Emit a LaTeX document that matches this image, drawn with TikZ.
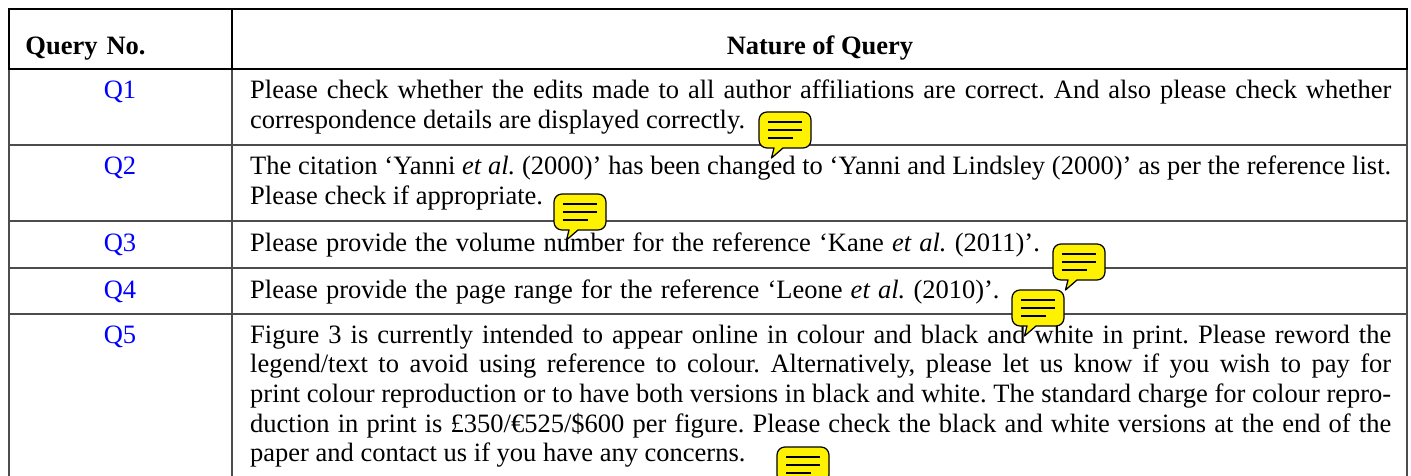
\documentclass[tikz,border=0pt]{standalone}
\usepackage{fontspec}
\setmainfont{Liberation Serif}
\newcommand{\widewords}{\spaceskip=8.2pt\relax}
\tikzset{
  x=1pt,y=-1pt,
  rule/.style={draw=black!70,line width=1.5pt},
  heavy/.style={draw=black,line width=2pt},
  cell/.style={anchor=base west,inner sep=0pt,text width=1141pt,align=justify,font=\fontsize{26.5}{29.7}\selectfont\frenchspacing},
  qno/.style={anchor=base,inner sep=0pt,text=blue,font=\fontsize{26.5}{29}\selectfont},
  head/.style={anchor=base,inner sep=0pt,font=\fontsize{26.5}{29}\selectfont\bfseries},
  bubble/.style={draw=black,fill=yellow,line width=1.25pt,line join=round},
  bline/.style={draw=black,line width=1.25pt}
}
\newcommand{\note}[2]{%
 \begin{scope}[shift={(#1,#2)}]
  \path[bubble] (8,0) -- (44,0) arc[start angle=-90,end angle=0,x radius=8pt,y radius=-8pt]
   -- (52,28) arc[start angle=0,end angle=90,x radius=8pt,y radius=-8pt]
   -- (24,36) -- (12.5,46) -- (15,36) -- (8,36) arc[start angle=90,end angle=180,x radius=8pt,y radius=-8pt]
   -- (0,8) arc[start angle=180,end angle=270,x radius=8pt,y radius=-8pt] -- cycle;
  \path[bline] (9,10) -- (43,10) (9,18) -- (43,18) (9,26) -- (34,26);
 \end{scope}}
\begin{document}
\begin{tikzpicture}
\useasboundingbox (0,0) rectangle (1411,476);
\path[rule] (9,69) -- (9,476) (232,69) -- (232,476) (1407,69) -- (1407,476);
\path[rule] (9,145) -- (1407,145) (9,221) -- (1407,221) (9,268) -- (1407,268) (9,314) -- (1407,314);
\path[heavy] (9,9) rectangle (1407,69) (232,9) -- (232,69);
\node[head] (h1) at (85.5,55) {Query\hspace{9pt}No.};
\node[head] (h2) at (820,55) {Nature of Query};
\node[qno] (q1) at (120,99) {Q1};
\node[qno] (q2) at (120,175) {Q2};
\node[qno] (q3) at (120,251) {Q3};
\node[qno] (q4) at (120,298) {Q4};
\node[qno] (q5) at (120,343) {Q5};
\node[cell] (t1) at (250,99) {Please check whether the edits made to all author affiliations are correct. And also please check whether\linebreak correspondence details are displayed correctly.};
\node[cell] (t2) at (250,175) {The citation ‘Yanni \textit{et al.} (2000)’ has been changed to ‘Yanni and Lindsley (2000)’ as per the reference list.\linebreak Please check if appropriate.};
\node[cell] (t3) at (250,251) {\widewords Please provide the volume number for the reference ‘Kane \textit{et al.} (2011)’.};
\node[cell] (t4) at (250,298) {\widewords Please provide the page range for the reference ‘Leone \textit{et al.} (2010)’.};
\node[cell] (t5) at (250,343) {Figure 3 is currently intended to appear online in colour and black and white in print. Please reword the\linebreak legend/text to avoid using reference to colour. Alternatively, please let us know if you wish to pay for\linebreak print colour reproduction or to have both versions in black and white. The standard charge for colour repro-\linebreak duction in print is £350/€525/\$600 per figure. Please check the black and white versions at the end of the\linebreak paper and contact us if you have any concerns.};
\note{759}{112}
\note{554}{194}
\note{1053}{244}
\note{1012}{290}
\note{777}{447}
\end{tikzpicture}
\end{document}
